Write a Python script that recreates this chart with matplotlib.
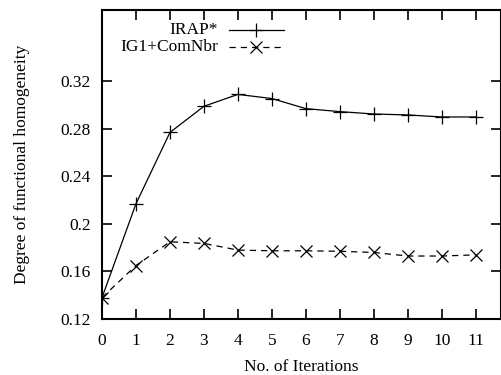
import matplotlib
matplotlib.use("Agg")
import matplotlib.pyplot as plt

# iteration numbers and the two series
iterations = [0, 1, 2, 3, 4, 5, 6, 7, 8, 9, 10, 11]
irap = [0.138, 0.217, 0.277, 0.299, 0.309, 0.3055, 0.297, 0.2945, 0.2925, 0.2917, 0.290, 0.290]
ig1_comnbr = [0.138, 0.165, 0.185, 0.1836, 0.178, 0.1774, 0.1774, 0.177, 0.176, 0.173, 0.173, 0.174]
yticks = [0.12, 0.16, 0.2, 0.24, 0.28, 0.32]
ytick_labels = ["0.12", "0.16", "0.2", "0.24", "0.28", "0.32"]

plt.rcParams['font.family'] = ['Liberation Serif', 'DejaVu Serif']
plt.rcParams['font.size'] = 12.5

fig = plt.figure(figsize=(5.01, 3.75), dpi=100)
ax = fig.add_axes([0.2036, 0.1493, 0.797, 0.824])

ax.plot(iterations, irap, color='black', lw=0.9, marker='+', ms=10, mew=0.9)
ax.plot(iterations, ig1_comnbr, color='black', lw=0.9, ls=(0, (5, 4)),
        marker='x', ms=8, mew=0.9)

ax.set_xlim(0, 11.75)
ax.set_ylim(0.12, 0.38)
ax.set_xticks(iterations)
ax.set_yticks(yticks)
ax.set_yticklabels(ytick_labels)
ax.tick_params(direction='in', length=7, width=1.2, top=True, right=True)
ax.tick_params(axis='x', pad=10)
ax.tick_params(axis='y', pad=8)
for s in ax.spines.values():
    s.set_linewidth(1.5)

ax.set_xlabel('No. of Iterations', labelpad=7)
ax.set_ylabel('Degree of functional homogeneity', labelpad=22)

# legend drawn by hand: right-aligned text, sample to the right
tr = ax.transAxes
ax.text(0.291, 0.935, 'IRAP*', transform=tr, ha='right', va='center')
ax.plot([0.317, 0.455], [0.935, 0.935], transform=tr, color='black', lw=0.9)
ax.plot([0.385], [0.935], transform=tr, color='black', marker='+', ms=10, mew=0.9)
ax.text(0.291, 0.880, 'IG1+ComNbr', transform=tr, ha='right', va='center')
ax.plot([0.317, 0.455], [0.880, 0.880], transform=tr, color='black', lw=0.9, ls=(0, (5, 4)))
ax.plot([0.385], [0.880], transform=tr, color='black', marker='x', ms=8, mew=0.9)

fig.savefig('out.png', dpi=100)
